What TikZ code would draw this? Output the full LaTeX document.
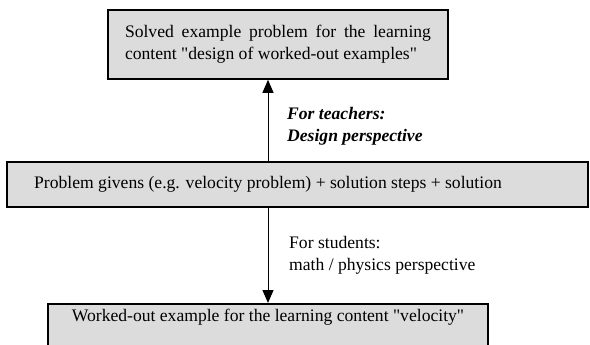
\documentclass[tikz,border=0pt]{standalone}
\usepackage{fontspec}
\setmainfont{Liberation Serif}[Ligatures=TeXOff]
\usetikzlibrary{arrows.meta}
\definecolor{boxgray}{HTML}{DCDCDC}
\tikzset{
  txt/.style={font=\fontsize{17.6}{22}\selectfont},
  box/.style={txt, draw=black, line width=1.6pt, fill=boxgray, inner sep=0pt},
  lbl/.style={txt, anchor=base west, align=left, inner sep=0pt},
  arr/.style={line width=1pt, -{Triangle[width=11pt,length=13pt]}}
}
\begin{document}
\begin{tikzpicture}[x=1pt,y=-1pt]
\useasboundingbox (0,0) rectangle (590,345);
\node[box, minimum width=340pt, minimum height=69pt, text width=306pt, align=justify] (b1) at (278,44.5)
  {Solved example problem for the learning\linebreak content "design of worked-out examples"};
\node[box, minimum width=581pt, minimum height=45pt] (b2) at (297.5,184.5) {};
\node[txt, inner sep=0pt] (b2t) at (268,184.5)
  {Problem givens (e.g. velocity problem) + solution steps + solution};
\node[box, anchor=north, minimum width=440pt, text height=12pt, text depth=30pt, inner ysep=6pt] (b3) at (268,303)
  {Worked-out example for the learning content "velocity"};
\coordinate (ax) at (268,0);
\draw[arr] (b2.north -| ax) -- (b1.south -| ax);
\draw[arr] (b2.south -| ax) -- (b3.north -| ax);
\node[lbl, font=\fontsize{17.6}{22}\selectfont\bfseries\itshape] (t1) at (287,142) {For teachers:\\Design perspective};
\node[lbl] (t2) at (289,270) {For students:\\math / physics perspective};
\end{tikzpicture}
\end{document}
